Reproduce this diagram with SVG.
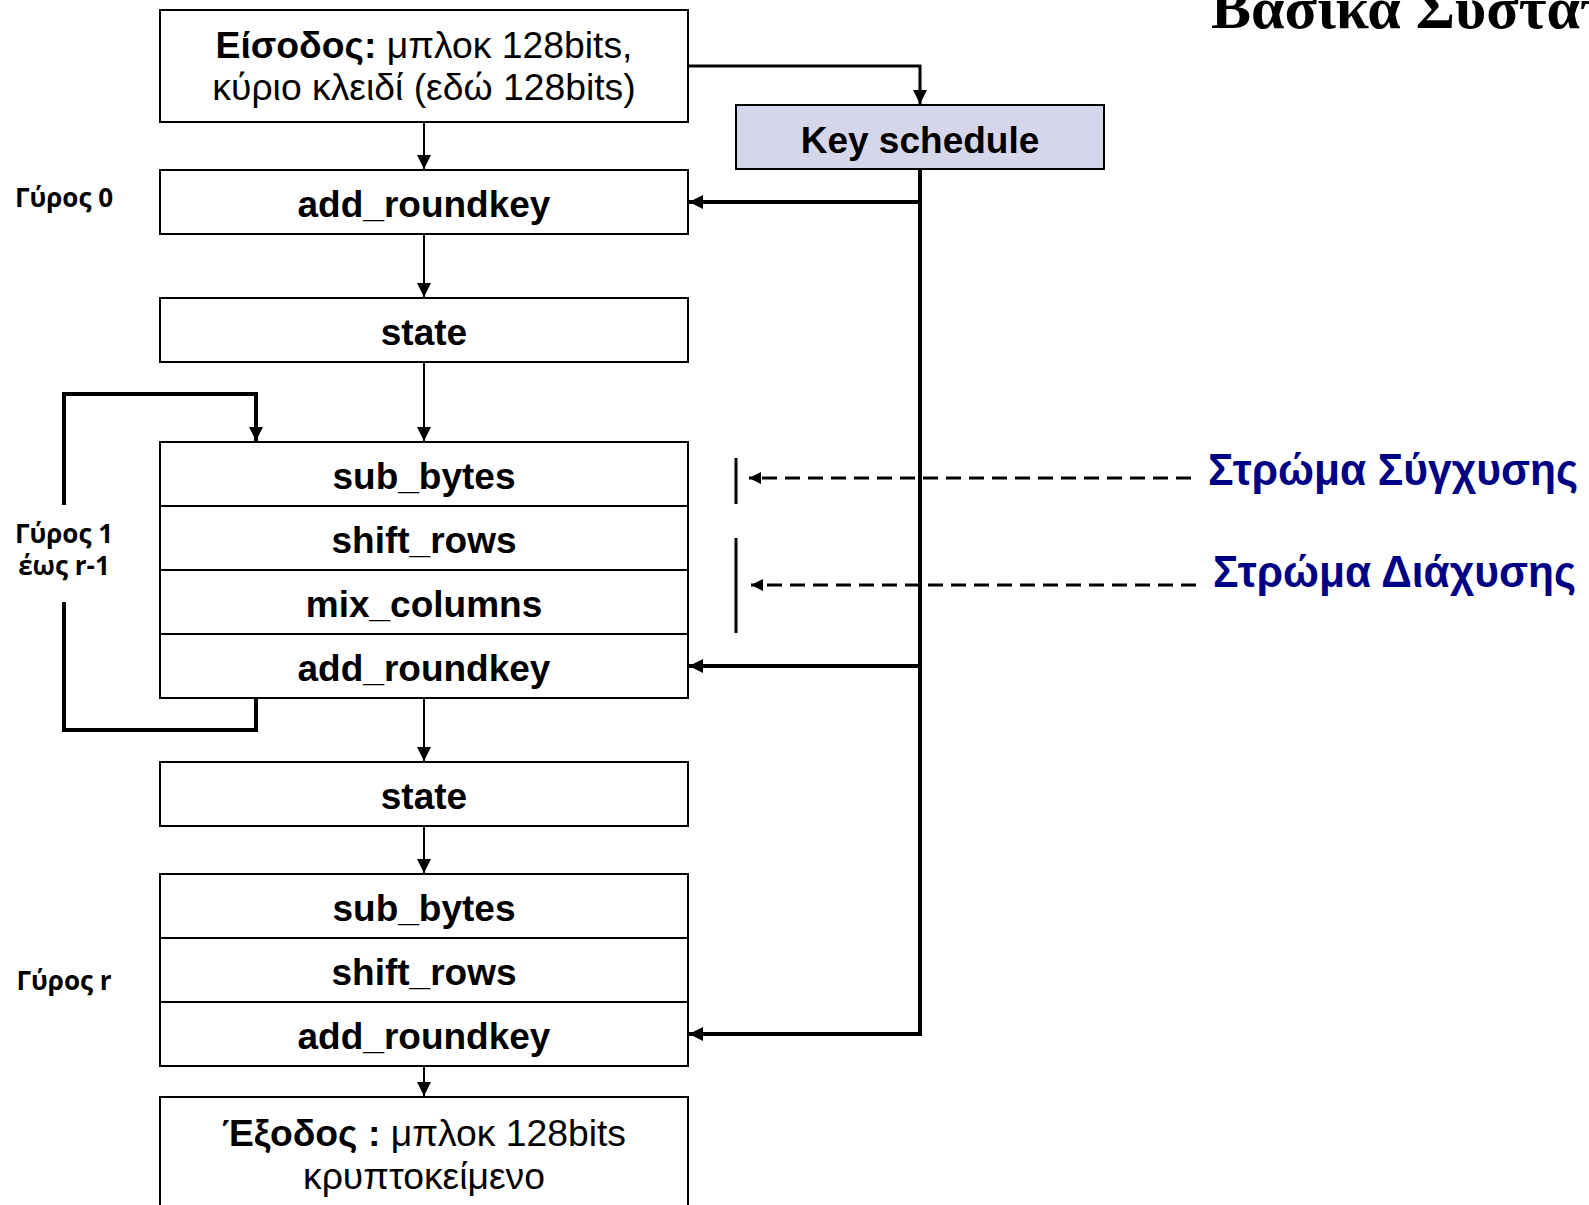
<svg xmlns="http://www.w3.org/2000/svg" width="1589" height="1205" viewBox="0 0 1589 1205">
<defs>
<marker id="ah" markerWidth="16" markerHeight="16" refX="14" refY="8" orient="auto" markerUnits="userSpaceOnUse"><path d="M0,1 L14,8 L0,15 z" fill="#000"/></marker>
<marker id="ahs" markerWidth="14" markerHeight="14" refX="12" refY="7" orient="auto" markerUnits="userSpaceOnUse"><path d="M0,1 L12,7 L0,13 z" fill="#000"/></marker>
<style>
.box{fill:#fff;stroke:#000;stroke-width:2}
.ks{fill:#D6D6EB;stroke:#000;stroke-width:2}
.div{stroke:#000;stroke-width:2}
.t{font-family:"Liberation Sans",Arial,sans-serif;font-size:37px;font-weight:bold;text-anchor:middle;fill:#000}
.tr{font-family:"Liberation Sans",Arial,sans-serif;font-size:37.3px;text-anchor:middle;fill:#000}
.lbl{font-family:"Open Sans","DejaVu Sans",sans-serif;font-size:26px;font-weight:bold;text-anchor:middle;fill:#000}
.blue{font-family:"Liberation Sans",Arial,sans-serif;font-size:44px;font-weight:bold;fill:#000085}
.thin{fill:none;stroke:#000;stroke-width:2}
.mid{fill:none;stroke:#000;stroke-width:3}
.thick{fill:none;stroke:#000;stroke-width:4}
.dash{fill:none;stroke:#000;stroke-width:3;stroke-dasharray:15 8}
</style>
</defs>
<rect width="1589" height="1205" fill="#fff"/>
<text x="1211" y="28" font-family="'Liberation Serif','Times New Roman',serif" font-size="60" font-weight="bold">Βασικά Συστατικά</text>

<g id="connectors">
<path class="mid" d="M688,66 H920 V104" marker-end="url(#ah)"/>
<path class="thick" d="M920,169 V1034 H689" marker-end="url(#ah)"/>
<path class="thick" d="M920,202 H689" marker-end="url(#ah)"/>
<path class="thick" d="M920,666 H689" marker-end="url(#ah)"/>
<path class="thin" d="M424,122 V169" marker-end="url(#ah)"/>
<path class="thin" d="M424,234 V297" marker-end="url(#ah)"/>
<path class="thin" d="M424,362 V441" marker-end="url(#ah)"/>
<path class="thin" d="M424,698 V761" marker-end="url(#ah)"/>
<path class="thin" d="M424,826 V873" marker-end="url(#ah)"/>
<path class="thin" d="M424,1066 V1096" marker-end="url(#ah)"/>
<path class="thick" d="M256,699 V730 H64 V602"/>
<path class="thick" d="M64,505 V394 H256 V441" marker-end="url(#ah)"/>
<path class="dash" d="M1191,478 H749" marker-end="url(#ahs)"/>
<path class="dash" d="M1196,585 H751" marker-end="url(#ahs)"/>
<path class="mid" d="M736,458 V504"/>
<path class="mid" d="M736,538 V633"/>
</g>

<g id="input">
<rect class="box" x="160" y="10" width="528" height="112"/>
<text class="tr" x="424" y="58"><tspan font-weight="bold">Είσοδος:</tspan> μπλοκ 128bits,</text>
<text class="tr" x="424" y="100">κύριο κλειδί (εδώ 128bits)</text>
</g>
<g id="key-schedule">
<rect class="ks" x="736" y="105" width="368" height="64"/>
<text class="t" x="920" y="153">Key schedule</text>
</g>
<g id="add-roundkey-0">
<rect class="box" x="160" y="170" width="528" height="64"/>
<text class="t" x="424" y="217">add_roundkey</text>
</g>
<g id="state-1">
<rect class="box" x="160" y="298" width="528" height="64"/>
<text class="t" x="424" y="345">state</text>
</g>
<g id="round-main">
<rect class="box" x="160" y="442" width="528" height="256"/>
<line class="div" x1="160" y1="506" x2="688" y2="506"/>
<line class="div" x1="160" y1="570" x2="688" y2="570"/>
<line class="div" x1="160" y1="634" x2="688" y2="634"/>
<text class="t" x="424" y="489">sub_bytes</text>
<text class="t" x="424" y="553">shift_rows</text>
<text class="t" x="424" y="617">mix_columns</text>
<text class="t" x="424" y="681">add_roundkey</text>
</g>
<g id="state-2">
<rect class="box" x="160" y="762" width="528" height="64"/>
<text class="t" x="424" y="809">state</text>
</g>
<g id="round-final">
<rect class="box" x="160" y="874" width="528" height="192"/>
<line class="div" x1="160" y1="938" x2="688" y2="938"/>
<line class="div" x1="160" y1="1002" x2="688" y2="1002"/>
<text class="t" x="424" y="921">sub_bytes</text>
<text class="t" x="424" y="985">shift_rows</text>
<text class="t" x="424" y="1049">add_roundkey</text>
</g>
<g id="output">
<rect class="box" x="160" y="1097" width="528" height="130"/>
<text class="tr" x="424" y="1146"><tspan font-weight="bold">Έξοδος :</tspan> μπλοκ 128bits</text>
<text class="tr" x="424" y="1189">κρυπτοκείμενο</text>
</g>

<g id="labels">
<text class="lbl" x="64" y="207">Γύρος 0</text>
<text class="lbl" x="64" y="543">Γύρος 1</text>
<text class="lbl" x="64" y="575">έως r-1</text>
<text class="lbl" x="64" y="990">Γύρος r</text>
</g>
<g id="layers">
<text class="blue" x="1208" y="485" textLength="370" lengthAdjust="spacingAndGlyphs">Στρώμα Σύγχυσης</text>
<text class="blue" x="1213" y="587" textLength="363" lengthAdjust="spacingAndGlyphs">Στρώμα Διάχυσης</text>
</g>
</svg>
